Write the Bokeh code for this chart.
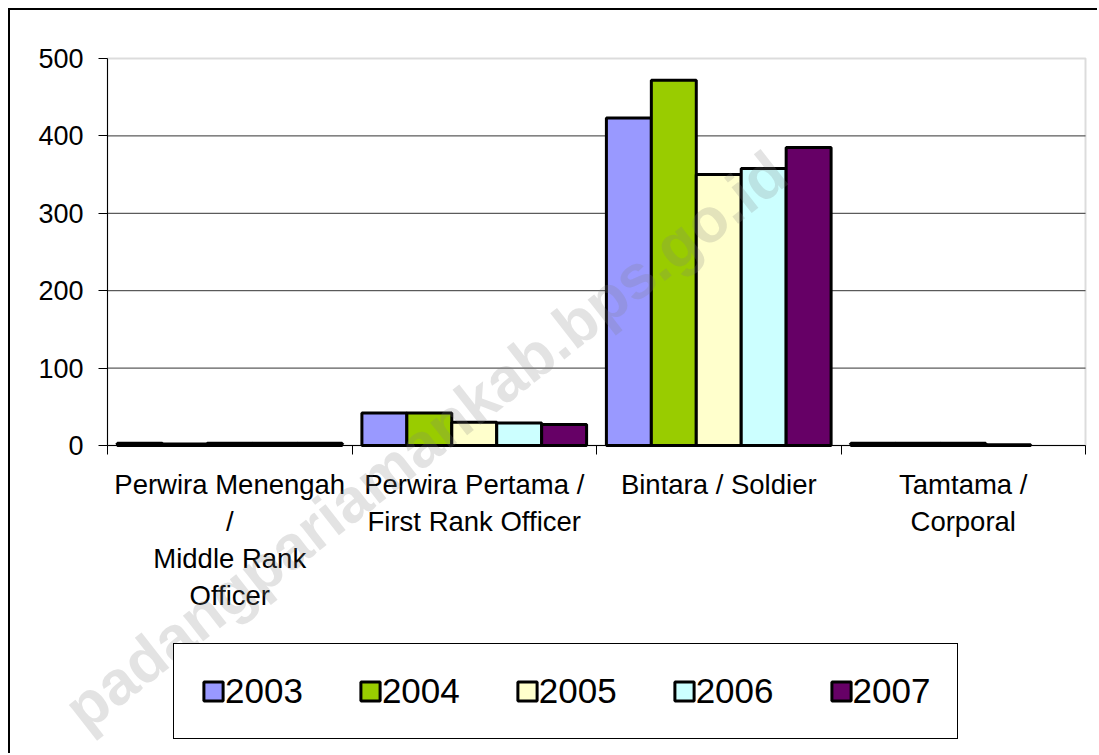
import math
from bokeh.plotting import figure
from bokeh.models import (Range1d, FixedTicker, Legend, LegendItem, Label,
                          ColumnDataSource, LinearAxis, BoxAnnotation)
from bokeh.transform import dodge
from bokeh.embed import file_html
from bokeh.resources import INLINE

categories = [
    "Perwira Menengah\n/\nMiddle Rank\nOfficer",
    "Perwira Pertama /\nFirst Rank Officer",
    "Bintara / Soldier",
    "Tamtama /\nCorporal",
]
years = ["2003", "2004", "2005", "2006", "2007"]
v2003 = [3, 42, 423, 3]
v2004 = [2, 42, 472, 3]
v2005 = [3, 30, 350, 3]
v2006 = [3, 29, 358, 1]
v2007 = [3, 27, 385, None]
y_ticks = [0, 100, 200, 300, 400, 500]
colors = ["#9999FF", "#99CC00", "#FFFFCC", "#CCFFFF", "#660066"]
watermark = "padangpariamankab.bps.go.id"

series = [v2003, v2004, v2005, v2006, v2007]
ncat = len(categories)
xc = [i + 0.5 for i in range(ncat)]
data = {"x": xc}
for yr, s in zip(years, series):
    data["y" + yr] = [float("nan") if v is None else v for v in s]
src = ColumnDataSource(data)

FONT = "Liberation Sans"

# canvas geometry (pixels): plot area from (97, 48) to (1075, 435)
W, H = 1089, 745
PL, PR, PT, PB = 97, 1075, 48, 435
ymax = y_ticks[-1]
sx = (PR - PL) / ncat
sy = (PB - PT) / ymax
x_range = Range1d(-PL / sx, ncat + (W - PR) / sx)
y_range = Range1d(-(H - PB) / sy, ymax + PT / sy)

p = figure(width=W, height=H, x_range=x_range, y_range=y_range,
           output_backend="svg", toolbar_location=None,
           x_axis_location=None, y_axis_location=None, min_border=0)
p.styles = {"margin-left": "8px", "margin-top": "8px",
            "border-left": "2px solid black", "border-top": "2px solid black"}
p.background_fill_color = "white"
p.border_fill_color = "white"
p.outline_line_color = None
p.xgrid.visible = False
p.ygrid.visible = False

# plot-area border (grey, visible at top and right)
p.add_layout(BoxAnnotation(left=0, right=ncat, bottom=0, top=ymax,
                           fill_alpha=0, line_color="#8c8c8c", line_width=2,
                           level="underlay"))

# horizontal gridlines
grid_vals = y_ticks[1:-1]
p.segment(x0=[0] * len(grid_vals), x1=[ncat] * len(grid_vals),
          y0=grid_vals, y1=grid_vals, line_color="#333333", line_width=1)

bw = 0.1838
n = len(years)
items = []
for j, (yr, col) in enumerate(zip(years, colors)):
    off = (j - (n - 1) / 2) * bw
    r = p.vbar(x=dodge("x", off), top="y" + yr, bottom=0, width=bw, source=src,
               fill_color=col, line_color="black", line_width=3)
    items.append(LegendItem(label=yr, renderers=[r]))

# x axis (fixed at y=0)
xaxis = LinearAxis(fixed_location=0, bounds=(0, ncat))
xaxis.ticker = FixedTicker(ticks=xc, minor_ticks=list(range(ncat + 1)))
xaxis.major_label_overrides = {x: c for x, c in zip(xc, categories)}
xaxis.major_tick_out = 0
xaxis.major_tick_in = 0
xaxis.minor_tick_out = 9
xaxis.minor_tick_in = 0
xaxis.minor_tick_line_color = "black"
xaxis.axis_line_color = "black"
xaxis.major_label_text_font = FONT
xaxis.major_label_text_font_size = "27.5px"
xaxis.major_label_text_color = "black"
xaxis.major_label_standoff = 14
p.add_layout(xaxis, "below")

# y axis (fixed at x=0)
yaxis = LinearAxis(fixed_location=0, bounds=(0, ymax))
yaxis.ticker = FixedTicker(ticks=y_ticks, minor_ticks=[])
yaxis.major_tick_out = 9
yaxis.major_tick_in = 0
yaxis.major_tick_line_color = "black"
yaxis.axis_line_color = "black"
yaxis.major_label_text_font = FONT
yaxis.major_label_text_font_size = "27px"
yaxis.major_label_text_color = "black"
yaxis.major_label_standoff = 15
p.add_layout(yaxis, "left")

wm = Label(x=415, y=315, x_units="screen", y_units="screen", text=watermark,
           angle=math.radians(38), text_align="center", text_baseline="middle",
           text_font=FONT, text_font_style="bold", text_font_size="62px",
           text_color="#7f7f7f", text_alpha=0.22)
p.add_layout(wm)

legend = Legend(items=items, orientation="horizontal", location=(163, 16),
                glyph_width=24, glyph_height=24, label_standoff=0, spacing=55,
                padding=27, margin=0,
                label_text_font=FONT, label_text_font_size="35px",
                label_text_color="black",
                border_line_color="black", border_line_width=1,
                border_line_alpha=1,
                background_fill_color="white", background_fill_alpha=1)
p.add_layout(legend, "center")

open("out.html", "w").write(file_html(p, INLINE))
